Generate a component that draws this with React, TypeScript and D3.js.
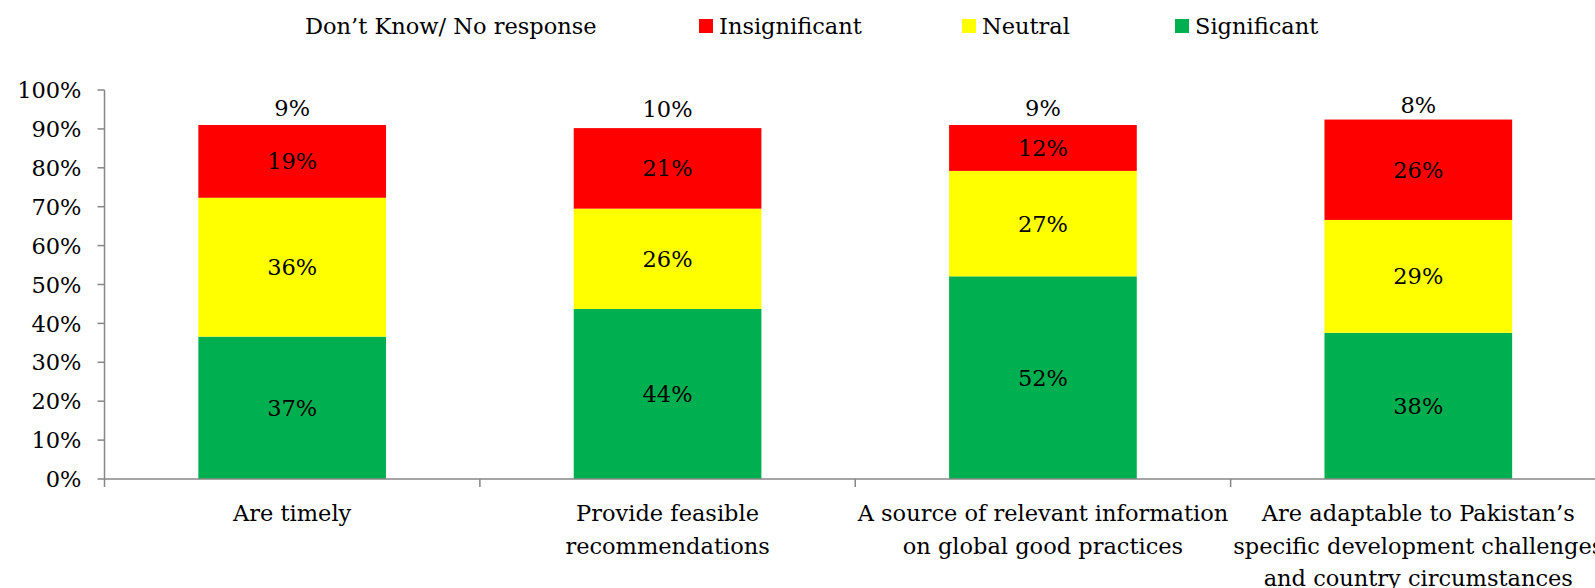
import { useEffect } from 'react';
import * as d3 from 'd3';

const categories = [
  ['Are timely'],
  ['Provide feasible', 'recommendations'],
  ['A source of relevant information', 'on global good practices'],
  ['Are adaptable to Pakistan\u2019s', 'specific development challenges', 'and country circumstances'],
];
const significant = [36.6, 43.7, 52.1, 37.6];
const neutral = [35.7, 25.8, 27.1, 29.0];
const insignificant = [18.7, 20.7, 11.8, 25.8];
const dontKnow = [9, 10, 9, 7.6];
const yTicks = [0, 10, 20, 30, 40, 50, 60, 70, 80, 90, 100];

const seriesNames = ['Significant', 'Neutral', 'Insignificant', 'Don\u2019t Know/ No response'];
const seriesColors = ['#00B050', '#FFFF00', '#FF0000', 'none'];
const seriesValues = [significant, neutral, insignificant, dontKnow];

const legendOrder = [3, 2, 1, 0];
const legendX = [305, 699, 962, 1175];

const width = 1595;
const height = 588;
const margin = { left: 104.5, right: -11, top: 90, bottom: 109 };
const font = '"DejaVu Serif", serif';
const axisColor = '#868686';

export default function App() {
  useEffect(() => {
    document.body.style.margin = '0';
  }, []);

  const x = d3
    .scaleBand<number>()
    .domain(categories.map((_, i) => i))
    .range([margin.left, width - margin.right])
    .paddingInner(0.5)
    .paddingOuter(0.25);
  const y = d3
    .scaleLinear()
    .domain([0, 100])
    .range([height - margin.bottom, margin.top]);

  const step = x.step();
  const x0 = margin.left;

  // build stacked rows
  const rows = categories.map((_, i) => {
    const r: Record<string, number> = {};
    seriesNames.forEach((n, s) => (r[n] = seriesValues[s][i]));
    return r;
  });
  const stacked = d3.stack<Record<string, number>>().keys(seriesNames)(rows);

  return (
    <svg width={width} height={height} style={{ display: 'block', background: '#fff' }} fontFamily={font}>
      {/* legend */}
      {legendOrder.map((s, k) => (
        <g key={s} transform={`translate(${legendX[k]},0)`}>
          {seriesColors[s] !== 'none' && <rect x={0} y={19} width={14} height={14} fill={seriesColors[s]} />}
          <text x={seriesColors[s] !== 'none' ? 20 : 0} y={34} fontSize={22.5} fill="#000">
            {seriesNames[s]}
          </text>
        </g>
      ))}

      {/* bars */}
      {stacked.map((layer, s) => (
        <g key={layer.key}>
          {layer.map((d, i) => (
            <g key={i}>
              {seriesColors[s] !== 'none' && (
                <rect
                  x={x(i)}
                  y={y(d[1])}
                  width={x.bandwidth()}
                  height={y(d[0]) - y(d[1])}
                  fill={seriesColors[s]}
                />
              )}
              <text
                x={(x(i) ?? 0) + x.bandwidth() / 2}
                y={(y(d[0]) + y(d[1])) / 2}
                dy="0.36em"
                textAnchor="middle"
                fontSize={22.5}
                fill="#000"
              >
                {Math.round(seriesValues[s][i])}%
              </text>
            </g>
          ))}
        </g>
      ))}

      {/* y axis */}
      <line x1={x0} x2={x0} y1={y(0)} y2={y(100)} stroke={axisColor} strokeWidth={1.5} />
      {yTicks.map((t) => (
        <g key={t}>
          <line x1={x0 - 7} x2={x0} y1={y(t)} y2={y(t)} stroke={axisColor} strokeWidth={1.5} />
          <text x={x0 - 23} y={y(t)} dy="0.36em" textAnchor="end" fontSize={22.5} fill="#000">
            {t}%
          </text>
        </g>
      ))}

      {/* x axis */}
      <line x1={x0} x2={width} y1={y(0)} y2={y(0)} stroke={axisColor} strokeWidth={1.5} />
      {d3.range(categories.length + 1).map((i) => (
        <line
          key={i}
          x1={x0 + i * step}
          x2={x0 + i * step}
          y1={y(0)}
          y2={y(0) + 8}
          stroke={axisColor}
          strokeWidth={1.5}
        />
      ))}
      {categories.map((lines, i) => (
        <text
          key={i}
          x={(x(i) ?? 0) + x.bandwidth() / 2}
          y={521}
          textAnchor="middle"
          fontSize={22.5}
          fill="#000"
        >
          {lines.map((l, j) => (
            <tspan key={j} x={(x(i) ?? 0) + x.bandwidth() / 2} dy={j === 0 ? 0 : 32.5}>
              {l}
            </tspan>
          ))}
        </text>
      ))}
    </svg>
  );
}
